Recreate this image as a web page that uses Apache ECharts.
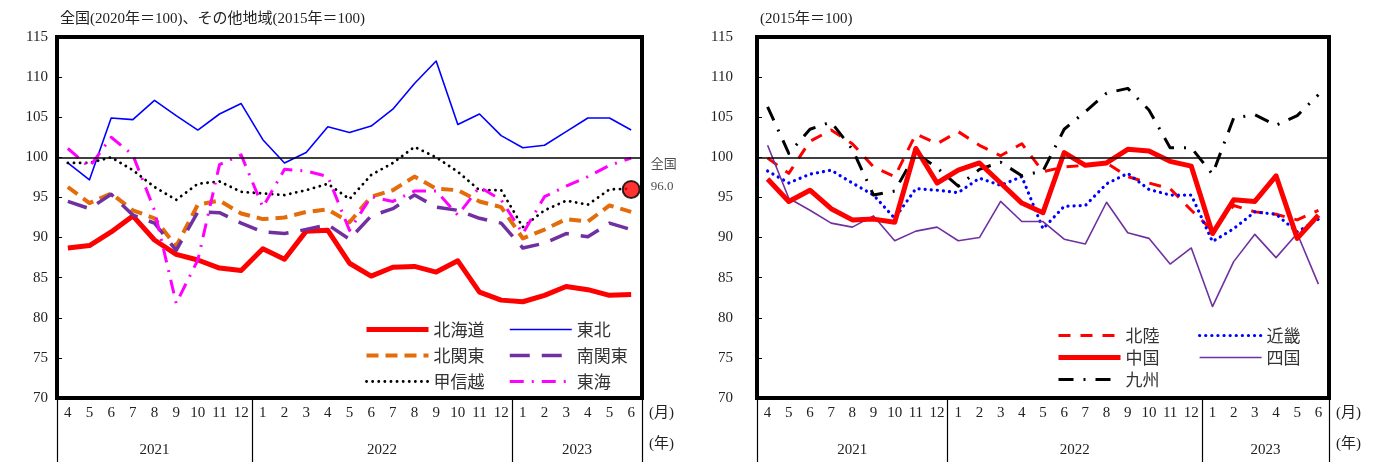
<!DOCTYPE html>
<html><head><meta charset="utf-8">
<script src="https://cdn.jsdelivr.net/npm/echarts@6/dist/echarts.min.js"></script>
<style>html,body{margin:0;padding:0;background:#fff}#c{width:1379px;height:462px}</style>
</head><body><div id="c"></div>
<script>
// ---- data ----
const months = ['4','5','6','7','8','9','10','11','12','1','2','3','4','5','6','7','8','9','10','11','12','1','2','3','4','5','6'];
const years = ['2021','2022','2023'];
const yearMonthCounts = [9,12,6];
const yTicks = [70,75,80,85,90,95,100,105,110,115];
const baseLine = 100;

const hokkaido    = [88.7,89.0,90.7,92.7,89.7,87.9,87.2,86.2,85.9,88.6,87.3,90.8,90.9,86.8,85.2,86.3,86.4,85.7,87.1,83.2,82.2,82.0,82.8,83.9,83.5,82.8,82.9];
const tohoku      = [99.3,97.2,104.9,104.7,107.1,105.2,103.4,105.4,106.7,102.2,99.3,100.6,103.8,103.1,103.9,106.0,109.2,112.0,104.1,105.4,102.7,101.2,101.5,103.2,104.9,104.9,103.4];
const kitakanto   = [96.3,94.3,95.5,93.4,92.4,88.9,94.1,94.6,93.0,92.3,92.5,93.2,93.5,91.9,95.1,95.9,97.6,96.1,95.9,94.5,93.8,89.9,91.0,92.3,92.0,94.0,93.2];
const minamikanto = [94.5,93.6,95.4,92.8,91.8,88.4,93.2,93.1,91.8,90.7,90.5,91.0,91.6,89.8,92.7,93.6,95.3,93.8,93.4,92.4,91.8,88.7,89.3,90.5,90.1,91.8,91.0];
const koshinetsu  = [99.3,99.3,100.0,98.4,96.3,94.7,96.7,97.0,95.7,95.5,95.3,95.9,96.7,94.8,97.8,99.3,101.3,100.0,98.2,95.9,95.9,91.3,93.4,94.6,94.1,96.0,96.1];
const tokai       = [101.1,98.8,102.5,100.3,93.4,81.8,87.2,99.1,100.3,93.8,98.5,98.3,97.6,90.9,95.1,94.5,95.8,95.8,92.8,96.3,94.7,90.5,95.1,96.4,97.6,99.0,99.9];
const zenkoku     = 96.0;

const hokuriku = [99.9,98.0,102.0,103.4,101.7,98.8,97.6,102.9,101.7,103.2,101.5,100.2,101.7,98.2,98.8,99.0,99.3,97.6,96.8,96.1,93.4,90.9,94.0,93.2,92.9,92.2,93.4];
const chugoku  = [97.3,94.5,95.9,93.6,92.2,92.3,91.9,101.1,96.8,98.4,99.3,96.8,94.3,93.1,100.6,99.0,99.3,101.0,100.8,99.5,98.9,90.5,94.7,94.5,97.7,89.9,92.8];
const kinki    = [98.3,96.8,97.9,98.4,96.8,95.3,92.4,96.1,95.9,95.6,97.4,96.5,97.6,91.1,93.9,94.0,96.7,98.0,96.0,95.3,95.3,89.5,91.1,93.2,92.9,90.7,92.3];
const shikoku  = [101.5,94.9,93.4,91.8,91.3,92.7,89.6,90.8,91.3,89.6,90.0,94.5,92.0,92.0,89.8,89.2,94.4,90.6,89.9,86.7,88.7,81.4,87.0,90.4,87.5,90.5,84.2];
const kyushu   = [106.3,100.5,103.5,104.4,101.0,95.3,95.8,100.5,98.7,96.4,98.5,99.4,97.7,98.3,103.5,105.7,108.0,108.6,105.9,101.2,101.2,97.9,104.9,105.3,104.0,105.2,107.8];

// ---- derived ----
const bounds = [0];
yearMonthCounts.forEach(n => bounds.push(bounds[bounds.length-1] + n));
const yearCenters = years.map((y,i) => (bounds[i] + bounds[i+1]) / 2);
const total = bounds[bounds.length-1];

const NUM = "'Liberation Serif','Noto Sans CJK JP'";
const JP = "'Noto Sans CJK JP'";
const TXT = '#222';

const grids = [
  {left: 57, top: 37, width: 585, height: 361},
  {left: 757, top: 37, width: 572, height: 361}
];

function monthAxis(gi) {
  return {
    type: 'category', gridIndex: gi, data: months, position: 'bottom',
    boundaryGap: true,
    axisLine: {show: false}, axisTick: {show: false},
    axisLabel: {color: TXT, fontFamily: NUM, fontSize: 15, margin: 8, interval: 0},
    name: '(月)', nameLocation: 'end', nameGap: 7,
    nameTextStyle: {color: TXT, fontFamily: NUM, fontSize: 15, verticalAlign: 'top', lineHeight: 31}
  };
}
function yearAxis(gi) {
  return {
    type: 'value', gridIndex: gi, position: 'bottom', min: 0, max: total,
    axisLine: {show: false}, splitLine: {show: false},
    axisTick: {show: true, customValues: bounds, length: 64, lineStyle: {color: '#000', width: 1.2}},
    axisLabel: {customValues: yearCenters, color: TXT, fontFamily: NUM, fontSize: 15, margin: 45,
      formatter: v => { const i = yearCenters.findIndex(c => Math.abs(c - v) < 1e-6); return i >= 0 ? years[i] : ''; }},
    name: '(年)', nameLocation: 'end', nameGap: 7,
    nameTextStyle: {color: TXT, fontFamily: NUM, fontSize: 15, verticalAlign: 'top', lineHeight: 93}
  };
}
function yAxis(gi, margin) {
  return {
    type: 'value', gridIndex: gi, min: yTicks[0], max: yTicks[yTicks.length-1], interval: 5,
    axisLine: {show: false}, splitLine: {show: false},
    axisTick: {show: true, inside: true, length: 5, lineStyle: {color: '#000', width: 1}},
    axisLabel: {color: TXT, fontFamily: NUM, fontSize: 15, margin: margin}
  };
}
function line(name, data, xi, yi, color, width, dash, extra) {
  return Object.assign({
    name, type: 'line', data, xAxisIndex: xi, yAxisIndex: yi,
    symbol: 'none', showSymbol: false, animation: false,
    lineStyle: {color, width, type: dash || 'solid', cap: 'butt', join: 'round'},
    itemStyle: {color}
  }, extra || {});
}
const ml = {silent: true, symbol: 'none', label: {show: false}, animation: false,
  lineStyle: {color: '#000', width: 1.5, type: 'solid'}, data: [{yAxis: baseLine}]};

const legendBase = {orient: 'vertical', itemWidth: 62, itemHeight: 14, itemGap: 9, selectedMode: false,
  itemStyle: {opacity: 0, borderWidth: 0},
  lineStyle: {width: 'inherit', type: 'inherit', cap: 'inherit'},
  textStyle: {color: '#333', fontFamily: JP, fontSize: 17}};

const option = {
  backgroundColor: '#fff',
  animation: false,
  title: [
    {text: '全国(2020年＝100)、その他地域(2015年＝100)', left: 55, top: 7, textStyle: {color: TXT, fontFamily: NUM, fontSize: 15, fontWeight: 'normal'}},
    {text: '(2015年＝100)', left: 755, top: 7, textStyle: {color: TXT, fontFamily: NUM, fontSize: 15, fontWeight: 'normal'}}
  ],
  grid: grids.map(g => Object.assign({show: true, borderColor: '#000', borderWidth: 4, backgroundColor: 'transparent',
    outerBoundsMode: 'none', containLabel: false}, g)),
  xAxis: [monthAxis(0), yearAxis(0), monthAxis(1), yearAxis(1)],
  yAxis: [yAxis(0, 9), yAxis(1, 24)],
  legend: [
    Object.assign({}, legendBase, {left: 359, top: 316, data: ['北海道','北関東','甲信越']}),
    Object.assign({}, legendBase, {left: 503, top: 316, data: ['東北','南関東','東海']}),
    Object.assign({}, legendBase, {left: 1051, top: 322, itemGap: 5, data: ['北陸','中国','九州']}),
    Object.assign({}, legendBase, {left: 1193, top: 322, itemGap: 5, data: ['近畿','四国']})
  ],
  series: [
    line('北海道', hokkaido, 0, 0, '#FF0000', 5, 'solid', {markLine: ml, z: 3}),
    line('東北', tohoku, 0, 0, '#0000FF', 1.6),
    line('北関東', kitakanto, 0, 0, '#E46C0A', 4, [12, 7]),
    line('南関東', minamikanto, 0, 0, '#7030A0', 3.5, [20, 12]),
    line('甲信越', koshinetsu, 0, 0, '#000000', 2.6, [0.1, 6], {lineStyle: {color: '#000', width: 2.8, type: [0.1, 6], cap: 'round'}}),
    line('東海', tokai, 0, 0, '#FF00FF', 3, [14, 8, 2, 8]),
    {name: '全国', type: 'scatter', xAxisIndex: 0, yAxisIndex: 0, data: [[total - 1, zenkoku]], z: 10,
      symbolSize: 17, itemStyle: {color: '#FF0000', borderColor: '#000', borderWidth: 2},
      label: {show: true, position: 'right', distance: 10, offset: [0, -14], color: TXT, fontFamily: NUM, fontSize: 13, lineHeight: 22,
        formatter: p => '全国\n' + p.value[1].toFixed(1)}},
    line('北陸', hokuriku, 2, 1, '#FF0000', 3, [12, 10], {markLine: ml}),
    line('近畿', kinki, 2, 1, '#0000FF', 3, [0.1, 6], {lineStyle: {color: '#0000FF', width: 3.2, type: [0.1, 6], cap: 'round'}}),
    line('四国', shikoku, 2, 1, '#7030A0', 1.6),
    line('九州', kyushu, 2, 1, '#000000', 3, [15, 10, 2, 10]),
    line('中国', chugoku, 2, 1, '#FF0000', 5, 'solid', {z: 3})
  ]
};
const chart = echarts.init(document.getElementById('c'), null, {renderer: 'canvas'});
chart.setOption(option);
</script></body></html>
